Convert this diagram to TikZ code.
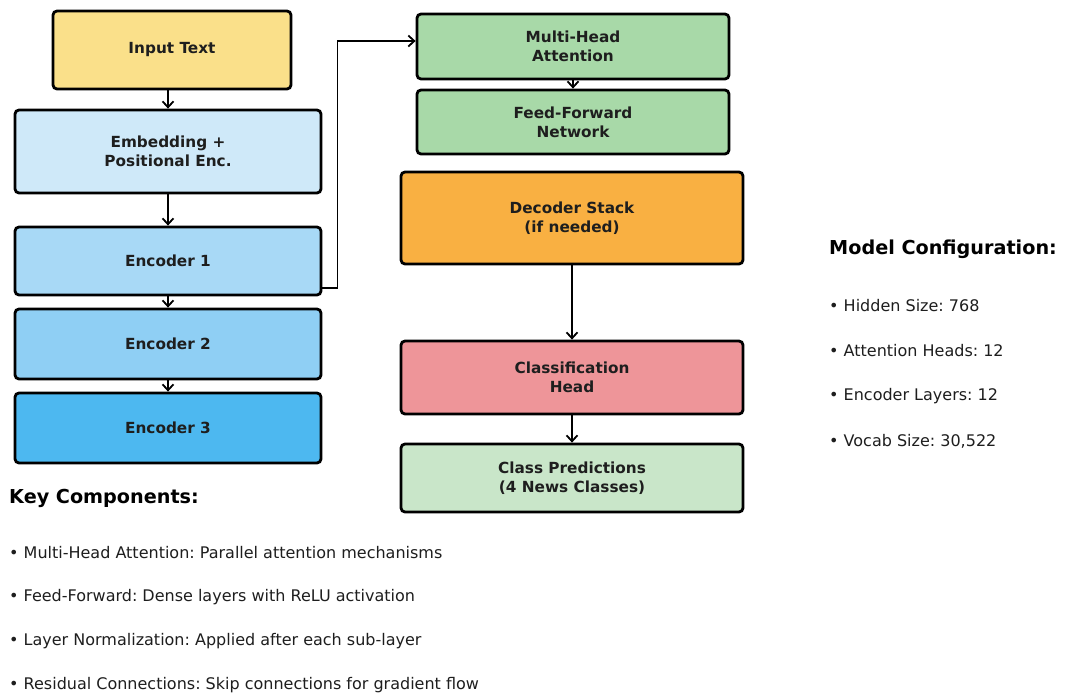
\documentclass[tikz,border=0pt]{standalone}
\usepackage{fontspec}
\setmainfont{DejaVu Sans}
\usetikzlibrary{arrows.meta}
\frenchspacing
\definecolor{cyel}{HTML}{FAE08A}
\definecolor{cemb}{HTML}{CFE9F9}
\definecolor{cenca}{HTML}{A8D9F6}
\definecolor{cencb}{HTML}{8FCFF4}
\definecolor{cencc}{HTML}{4DB8F0}
\definecolor{cgrn}{HTML}{A8D9A8}
\definecolor{corg}{HTML}{F9B042}
\definecolor{cpnk}{HTML}{EE9599}
\definecolor{cprd}{HTML}{C9E6C9}
\definecolor{ctxt}{HTML}{1E1E1E}
\tikzset{
  blk/.style={draw=black, line width=2.8pt, rounded corners=4pt, align=center,
    font=\fontsize{15.3}{19}\selectfont\bfseries, text=ctxt, inner sep=0pt},
  arr/.style={draw=black, line width=1.8pt, -{Straight Barb[length=6pt,width=11pt,line width=1.8pt]}},
  head/.style={anchor=west, font=\fontsize{19.2}{22}\selectfont\bfseries, text=black, inner sep=0pt},
  bul/.style={anchor=west, font=\fontsize{16}{19}\selectfont, text=ctxt, inner sep=0pt}
}
\begin{document}
\begin{tikzpicture}[x=1pt,y=-1pt]
\useasboundingbox (0,0) rectangle (1065,694);
\fill[white] (0,0) rectangle (1065,694);
\node[blk, fill=cyel, minimum width=238pt, minimum height=78pt] (inp) at (172,50) {Input Text};
\node[blk, fill=cemb, minimum width=306pt, minimum height=83pt] (emb) at (168,151.5) {Embedding +\\Positional Enc.};
\node[blk, fill=cenca, minimum width=306pt, minimum height=68pt] (enc1) at (168,261) {Encoder 1};
\node[blk, fill=cencb, minimum width=306pt, minimum height=70pt] (enc2) at (168,344) {Encoder 2};
\node[blk, fill=cencc, minimum width=306pt, minimum height=70pt] (enc3) at (168,428) {Encoder 3};
\node[blk, fill=cgrn, minimum width=312pt, minimum height=65pt] (mha) at (573,46.5) {Multi-Head\\Attention};
\node[blk, fill=cgrn, minimum width=312pt, minimum height=64pt] (ffn) at (573,122) {Feed-Forward\\Network};
\node[blk, fill=corg, minimum width=342pt, minimum height=92pt] (dec) at (572,218) {Decoder Stack\\(if needed)};
\node[blk, fill=cpnk, minimum width=342pt, minimum height=73pt] (cls) at (572,377.5) {Classification\\Head};
\node[blk, fill=cprd, minimum width=342pt, minimum height=68pt] (pred) at (572,478) {Class Predictions\\(4 News Classes)};

\draw[arr] (inp.south -| emb.north) -- (emb.north);
\draw[arr] (emb) -- (enc1);
\draw[arr] (enc1) -- (enc2);
\draw[arr] (enc2) -- (enc3);
\coordinate (eo) at ([yshift=-27pt]enc1.east);
\coordinate (mi) at ([yshift=5.5pt]mha.west);
\draw[arr] (eo) -- ++(15,0) |- (mi);
\draw[arr] (mha) -- (ffn);
\draw[arr] (dec) -- (cls);
\draw[arr] (cls) -- (pred);

\node[head] (mc) at (829,249) {Model Configuration:};
\node[bul] (m1) at (829,306) {• Hidden Size: 768};
\node[bul] (m2) at (829,351) {• Attention Heads: 12};
\node[bul] (m3) at (829,396) {• Encoder Layers: 12};
\node[bul] (m4) at (829,441) {• Vocab Size: 30,522};

\node[head] (kc) at (9,498) {Key Components:};
\node[bul] (k1) at (9,553) {• Multi-Head Attention: Parallel attention mechanisms};
\node[bul] (k2) at (9,597) {• Feed-Forward: Dense layers with ReLU activation};
\node[bul] (k3) at (9,641) {• Layer Normalization: Applied after each sub-layer};
\node[bul] (k4) at (9,685) {• Residual Connections: Skip connections for gradient flow};
\end{tikzpicture}
\end{document}
